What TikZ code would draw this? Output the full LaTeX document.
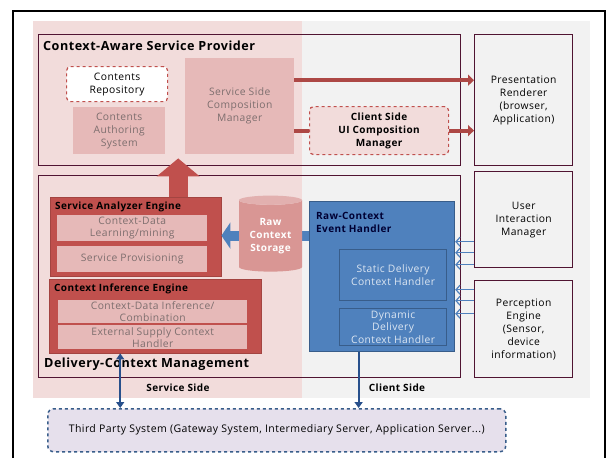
\documentclass[tikz,border=0pt]{standalone}
\usepackage{fontspec}
\setmainfont{Open Sans}[LetterSpace=4]
\usetikzlibrary{arrows.meta,positioning,calc,shapes.geometric}
\definecolor{svcpink}{RGB}{242,220,219}
\definecolor{cligrey}{RGB}{242,242,242}
\definecolor{framecol}{RGB}{80,20,50}
\definecolor{engred}{RGB}{192,80,77}
\definecolor{softred}{RGB}{230,185,184}
\definecolor{softtxt}{RGB}{125,110,110}
\definecolor{cylred}{RGB}{217,150,148}
\definecolor{evblue}{RGB}{79,129,189}
\definecolor{evdark}{RGB}{56,93,138}
\definecolor{evtxt}{RGB}{220,230,242}
\definecolor{tpfill}{RGB}{230,224,236}
\definecolor{linkblue}{RGB}{40,80,140}

\begin{document}
\begin{tikzpicture}[x=1pt, y=-1pt, font=\fontsize{10.3}{13}\selectfont,
	wh/.style 2 args={anchor=north west, minimum width=#1, minimum height=#2,
				inner sep=0pt, align=center},
	group/.style={draw=framecol, line width=1.4pt},
	dashbox/.style={draw=engred, dashed, line width=1.2pt, rounded corners=4pt},
	soft/.style={fill=softred, text=softtxt},
	engine/.style={fill=engred, draw=engred!85!black},
	evbox/.style={fill=evblue, draw=evdark, line width=1.2pt, text=evtxt},
	title/.style={font=\bfseries\fontsize{10}{13}\selectfont, anchor=west,
				inner sep=0pt, align=left},
	bigtitle/.style={font=\bfseries\fontsize{12.6}{14}\selectfont, anchor=west, inner sep=0pt},
	sidetitle/.style={font=\bfseries\fontsize{10}{12}\selectfont, inner sep=0pt},
	flow/.style={draw=engred!90!black, line width=4pt},
	feed/.style={draw=evblue, line width=1.2pt, -{Straight Barb[length=4pt,width=9pt]}},
	link/.style={draw=linkblue, line width=2pt},
]
\useasboundingbox (0,0) rectangle (607,458);
% service side / client side
\fill[svcpink] (33,21) rectangle (302,398);
\fill[cligrey] (302,21) rectangle (590,398);
\draw[line width=1.5pt] (13,458) -- (13,11) -- (605,11) -- (605,458);
%
\node[group, wh={422pt}{131pt}] (csp) at (38,34) {};
\node[bigtitle] (csptitle) at ([xshift=5pt, yshift=-12pt]csp.north west) {Context-Aware Service Provider};
\node[dashbox, fill=white, wh={101pt}{35pt}] (repo) at (66,66) {Contents\\Repository};
\node[soft, wh={92pt}{47pt}] (cas) at (73,107) {Contents\\Authoring\\System};
\node[soft, wh={109pt}{96pt}] (sscm) at (185,58) {Service Side\\Composition\\Manager};
\node[dashbox, fill=svcpink, wh={139pt}{48pt}, font=\bfseries\fontsize{10}{13}\selectfont]
	(cscm) at (309,106) {Client Side\\UI Composition\\Manager};
\node[group, fill=cligrey, wh={98pt}{131pt}] (pres) at (474,34) {Presentation\\Renderer\\(browser,\\Application)};
%
\draw[flow, -{Triangle[length=6pt,width=11pt]}] ([yshift=26pt]sscm.east) coordinate (f1) -- (f1 -| pres.west);
\draw[flow] (sscm.east |- cscm.west) -- (cscm.west);
\draw[flow, -{Triangle[length=6pt,width=11pt]}] (cscm.east) -- (cscm.east -| pres.west);
%
\node[group, wh={422pt}{202pt}] (dcm) at (38,175) {};
\node[bigtitle] (dcmtitle) at ([xshift=6pt, yshift=14pt]dcm.south west) {Delivery-Context Management};
%
\node[engine, wh={171pt}{79pt}] (sae) at (50,197) {};
\node[title] (saetitle) at ([xshift=5pt, yshift=-10pt]sae.north west) {Service Analyzer Engine};
\node[soft, wh={150pt}{26pt}, font=\fontsize{10.3}{12}\selectfont] (learn) at (57,215) {Context-Data\\Learning/mining};
\node[soft, wh={150pt}{26pt}] (prov) at (57,246) {Service Provisioning};
%
\node[engine, wh={212pt}{74pt}] (cie) at (49,279) {};
\node[title] (cietitle) at ([xshift=5pt, yshift=-10pt]cie.north west) {Context Inference Engine};
\node[soft, wh={189pt}{23pt}, font=\fontsize{10.3}{12}\selectfont] (infer) at (58,300) {Context-Data Inference/\\Combination};
\node[soft, wh={189pt}{24pt}, font=\fontsize{10.3}{12}\selectfont] (ext) at (58,325) {External Supply Context\\Handler};
%
\draw[line width=19pt, engred, -{Triangle[length=18pt,width=42pt]}]
	([xshift=42.5pt]sae.north) coordinate (up) -- ($(up |- csp.south)+(0,-8)$);
%
\node[evbox, wh={145pt}{150pt}] (rceh) at (309,201) {};
\node[title, text=black!80!blue] (rcehtitle) at ([xshift=7pt, yshift=-21pt]rceh.north west) {Raw-Context\\Event Handler};
\node[evbox, wh={107pt}{51pt}] (sdch) at (339,249) {Static Delivery\\Context Handler};
\node[evbox, wh={107pt}{37pt}, font=\fontsize{10.3}{12.3}\selectfont] (ddch) at (339,308) {Dynamic\\Delivery\\Context Handler};
%
\draw[evblue, line width=10pt, -{Triangle[length=9pt,width=26pt]}]
	([yshift=41pt]rceh.west) coordinate (b1) -- (b1 -| sae.east);
\node[cylinder, shape border rotate=90, aspect=0.22, cylinder uses custom fill,
	cylinder body fill=cylred, cylinder end fill=cylred!75!white,
	minimum width=63pt, minimum height=76pt, inner sep=0pt, text=white, align=center,
	font=\bfseries\fontsize{10}{13}\selectfont] (rcs) at (270.5,236) {Raw\\Context\\Storage};
%
\node[draw=evdark, dashed, line width=1.5pt, rounded corners=6pt, fill=tpfill, wh={458pt}{43pt},
	font=\fontsize{10.5}{12}\selectfont] (tps) at (47,408)
	{Third Party System (Gateway System, Intermediary Server, Application Server...)};
\draw[link, -{Triangle[length=6pt,width=8pt]}] ([xshift=-23.5pt]rceh.south) coordinate (l1) -- (l1 |- tps.north);
\draw[link, {Triangle[length=6pt,width=8pt]}-{Triangle[length=6pt,width=8pt]}]
	([xshift=-35pt]cie.south) coordinate (l2) -- (l2 |- tps.north);
%
\node[group, fill=cligrey, wh={98pt}{96pt}] (uim) at (474,171) {User\\Interaction\\Manager};
\node[group, fill=cligrey, wh={98pt}{97pt}] (pe) at (474,280) {Perception\\Engine\\(Sensor,\\device\\information)};
\foreach \dy in {22,33,45}
	\draw[feed] ([yshift=-\dy pt]uim.west) coordinate (u) -- (u -| rceh.east);
\foreach \dy in {39.5,28.5,15.5}
	\draw[feed] ([yshift=\dy pt]pe.west) coordinate (p) -- (p -| rceh.east);
%
\node[sidetitle] (svclabel) at (178,388) {Service Side};
\node[sidetitle] (clilabel) at (397,388) {Client Side};
\end{tikzpicture}
\end{document}
